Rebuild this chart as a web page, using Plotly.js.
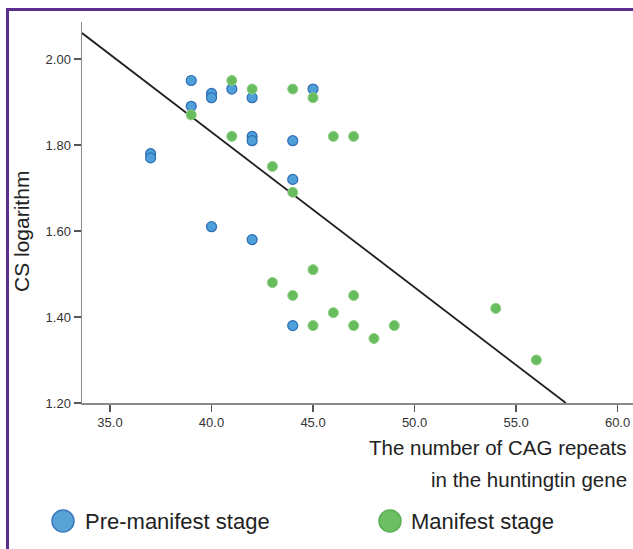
<!DOCTYPE html>
<html>
<head>
<meta charset="utf-8">
<script src="https://cdn.plot.ly/plotly-3.0.1.min.js"></script>
<style>
  html, body { margin: 0; padding: 0; background: #fff; overflow: hidden; }
  #wrap { position: relative; width: 633px; height: 549px; }
  #chart { position: absolute; left: 0; top: 0; width: 633px; height: 549px; }
  #frame { position: absolute; left: 6px; top: 8px; width: 700px; height: 600px;
           border-left: 3px solid #5b2e8e; border-top: 3px solid #5b2e8e; pointer-events: none; }
</style>
</head>
<body>
<div id="wrap">
  <div id="chart"></div>
  <div id="frame"></div>
</div>
<script>
// Pre-manifest stage (blue)
const preCAG = [39, 39, 40, 40, 41, 42, 45, 42, 42, 44, 37, 37, 44, 40, 42, 44];
const preCS  = [1.95, 1.89, 1.92, 1.91, 1.93, 1.91, 1.93, 1.82, 1.81, 1.81, 1.78, 1.77, 1.72, 1.61, 1.58, 1.38];

// Manifest stage (green)
const manCAG = [39, 41, 42, 44, 45, 41, 46, 47, 43, 44, 43, 44, 45, 46, 47, 45, 47, 48, 49, 54, 56];
const manCS  = [1.87, 1.95, 1.93, 1.93, 1.91, 1.82, 1.82, 1.82, 1.75, 1.69, 1.48, 1.45, 1.51, 1.41, 1.45, 1.38, 1.38, 1.35, 1.38, 1.42, 1.30];

// Linear fit (CS = intercept + slope * CAG)
const fitIntercept = 3.274;
const fitSlope = -0.0361;

const xRange = [33.62, 60.76];
const yRange = [1.2, 2.086];
const xTicks = [35, 40, 45, 50, 55, 60];
const xTickText = ["35.0", "40.0", "45.0", "50.0", "55.0", "60.0"];
const yTicks = [1.2, 1.4, 1.6, 1.8, 2.0];
const yTickText = ["1.20", "1.40", "1.60", "1.80", "2.00"];

const legendNames = ["Pre-manifest stage", "Manifest stage"];
const xTitleLines = ["The number of CAG repeats", "in the huntingtin gene"];
const yTitle = "CS logarithm";

const fitXEnd = (yRange[0] - fitIntercept) / fitSlope;
const fitX = [xRange[0], fitXEnd];
const fitY = fitX.map(x => fitIntercept + fitSlope * x);

const FONT = 'Arial, "Liberation Sans", sans-serif';

const traces = [
  { x: fitX, y: fitY, type: 'scatter', mode: 'lines',
    line: { color: '#1e1e1e', width: 1.8 }, showlegend: false, hoverinfo: 'skip' },
  { x: preCAG, y: preCS, type: 'scatter', mode: 'markers', name: legendNames[0],
    marker: { size: 10, color: '#4f9fd8', line: { color: '#2d6db5', width: 1.2 } }, showlegend: false },
  { x: manCAG, y: manCS, type: 'scatter', mode: 'markers', name: legendNames[1],
    marker: { size: 10, color: '#67bd5d', line: { color: '#8ccf82', width: 1 } }, showlegend: false }
];

// pixel helpers for the plot-area frame (l=82, t=22, w=551, h=381)
const L = 82, T = 22, W = 551, H = 381;
const px = v => (v - L) / W;
const py = v => (T + H - v) / H;

const layout = {
  width: 633, height: 549,
  margin: { l: L, r: 633 - L - W, t: T, b: 549 - T - H },
  paper_bgcolor: '#fff', plot_bgcolor: '#fff',
  showlegend: false,
  font: { family: FONT, color: '#222' },
  xaxis: {
    range: xRange, tickvals: xTicks, ticktext: xTickText,
    showgrid: false, zeroline: false, showline: true, linecolor: '#8a8a8a', linewidth: 1.5,
    ticks: 'outside', ticklen: 7, tickcolor: '#555', tickwidth: 1.5,
    tickfont: { size: 13, color: '#333', family: FONT }
  },
  yaxis: {
    range: yRange, tickvals: yTicks, ticktext: yTickText,
    showgrid: false, zeroline: false, showline: true, linecolor: '#8a8a8a', linewidth: 1.5,
    ticks: 'outside', ticklen: 7, tickcolor: '#555', tickwidth: 1.5,
    tickfont: { size: 13, color: '#333', family: FONT }
  },
  shapes: [
    { type: 'circle', xref: 'paper', yref: 'paper', xsizemode: 'pixel', ysizemode: 'pixel',
      xanchor: px(63), yanchor: py(521), x0: -11, x1: 11, y0: -11, y1: 11,
      fillcolor: '#57a3d6', line: { color: '#3a78be', width: 1.5 } },
    { type: 'circle', xref: 'paper', yref: 'paper', xsizemode: 'pixel', ysizemode: 'pixel',
      xanchor: px(390), yanchor: py(521), x0: -11, x1: 11, y0: -11, y1: 11,
      fillcolor: '#6cc063', line: { color: '#5aae55', width: 1.5 } }
  ],
  annotations: [
    { text: xTitleLines[0], xref: 'paper', yref: 'paper', x: px(629), y: py(447),
      xanchor: 'right', yanchor: 'middle', showarrow: false, font: { size: 20.5, color: '#222' } },
    { text: xTitleLines[1], xref: 'paper', yref: 'paper', x: px(629), y: py(479),
      xanchor: 'right', yanchor: 'middle', showarrow: false, font: { size: 20.5, color: '#222' } },
    { text: yTitle, xref: 'paper', yref: 'paper', x: px(21), y: py(232), textangle: -90,
      xanchor: 'center', yanchor: 'middle', showarrow: false, font: { size: 21, color: '#222' } },
    { text: legendNames[0], xref: 'paper', yref: 'paper', x: px(83), y: py(521),
      xanchor: 'left', yanchor: 'middle', showarrow: false, font: { size: 22, color: '#222' } },
    { text: legendNames[1], xref: 'paper', yref: 'paper', x: px(409), y: py(521),
      xanchor: 'left', yanchor: 'middle', showarrow: false, font: { size: 22, color: '#222' } }
  ]
};

Plotly.newPlot('chart', traces, layout, { displayModeBar: false, staticPlot: true });
</script>
</body>
</html>
